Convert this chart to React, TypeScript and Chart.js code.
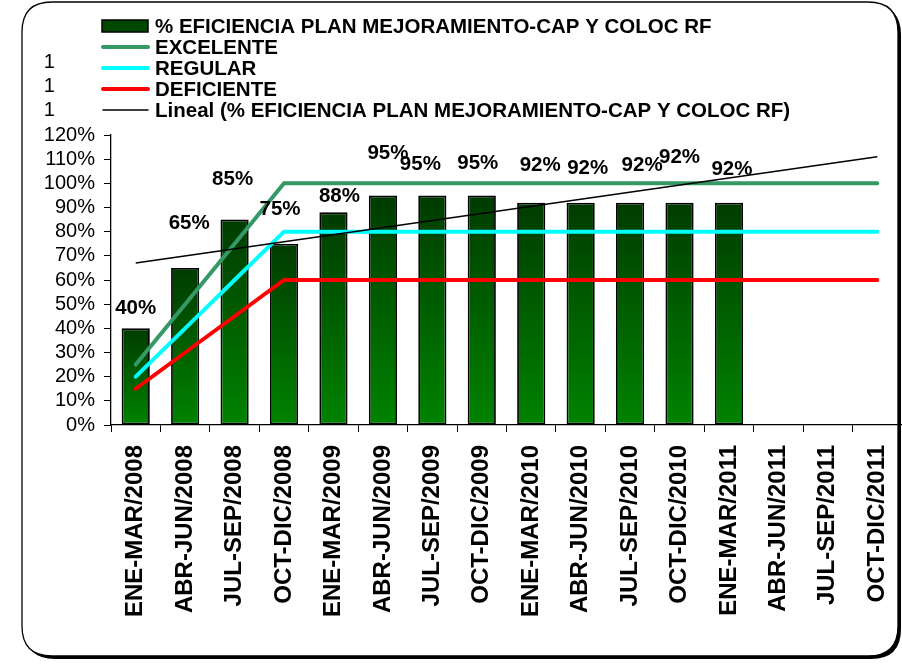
import React, { useEffect, useRef } from "react";
import { Chart, registerables } from "chart.js";

Chart.register(...registerables);

const FONT = "Arial, 'Liberation Sans', Helvetica, sans-serif";

const categories = [
  "ENE-MAR/2008", "ABR-JUN/2008", "JUL-SEP/2008", "OCT-DIC/2008",
  "ENE-MAR/2009", "ABR-JUN/2009", "JUL-SEP/2009", "OCT-DIC/2009",
  "ENE-MAR/2010", "ABR-JUN/2010", "JUL-SEP/2010", "OCT-DIC/2010",
  "ENE-MAR/2011", "ABR-JUN/2011", "JUL-SEP/2011", "OCT-DIC/2011",
];

const efficiency = [40, 65, 85, 75, 88, 95, 95, 95, 92, 92, 92, 92, 92, null, null, null];
const excelente = [25, 50, 75, 100, 100, 100, 100, 100, 100, 100, 100, 100, 100, 100, 100, 100];
const regular = [20, 40, 60, 80, 80, 80, 80, 80, 80, 80, 80, 80, 80, 80, 80, 80];
const deficiente = [15, 30, 45, 60, 60, 60, 60, 60, 60, 60, 60, 60, 60, 60, 60, 60];
// trend line read at its two ends
const trend = [67, null, null, null, null, null, null, null, null, null, null, null, null, null, null, 111];

const seriesLabels = [
  "% EFICIENCIA PLAN MEJORAMIENTO-CAP Y COLOC RF",
  "EXCELENTE",
  "REGULAR",
  "DEFICIENTE",
  "Lineal (% EFICIENCIA PLAN MEJORAMIENTO-CAP Y COLOC RF)",
];

const yMin = 0;
const yMax = 120;
const yStep = 10;
const clippedTicks = [130, 140, 150];

// label nudges (px) relative to the bar top, as placed in the original
const labelNudges: [number, number][] = [
  [0, -20], [4, -45], [-2, -40], [-4, -34], [6, -16], [5, -42], [-12, -31],
  [-4, -32], [9, -37], [7, -34], [12, -37], [0, -45], [3, -33],
];

function roundRectPath(ctx: CanvasRenderingContext2D, x: number, y: number, w: number, h: number, r: number) {
  ctx.beginPath();
  ctx.moveTo(x + r, y);
  ctx.lineTo(x + w - r, y);
  ctx.quadraticCurveTo(x + w, y, x + w, y + r);
  ctx.lineTo(x + w, y + h - r);
  ctx.quadraticCurveTo(x + w, y + h, x + w - r, y + h);
  ctx.lineTo(x + r, y + h);
  ctx.quadraticCurveTo(x, y + h, x, y + h - r);
  ctx.lineTo(x, y + r);
  ctx.quadraticCurveTo(x, y, x + r, y);
  ctx.closePath();
}

const framePlugin = {
  id: "frame",
  beforeDraw(chart: any) {
    const ctx = chart.ctx as CanvasRenderingContext2D;
    ctx.save();
    ctx.fillStyle = "#ffffff";
    ctx.fillRect(0, 0, chart.width, chart.height);
    const x = 22, y = 2, w = 876, h = 654, r = 30;
    ctx.fillStyle = "#000";
    roundRectPath(ctx, x + 3, y + 3, w, h, r);
    ctx.fill();
    ctx.fillStyle = "#fff";
    roundRectPath(ctx, x, y, w, h, r);
    ctx.fill();
    ctx.lineWidth = 1.3;
    ctx.strokeStyle = "#000";
    ctx.stroke();
    ctx.restore();
  },
};

const legendPlugin = {
  id: "customLegend",
  afterDraw(chart: any) {
    const ctx = chart.ctx as CanvasRenderingContext2D;
    const ds = chart.data.datasets;
    ctx.save();
    ctx.font = `bold 20.5px ${FONT}`;
    ctx.textBaseline = "middle";
    ctx.textAlign = "left";
    ds.forEach((d: any, row: number) => {
      const cy = 26 + row * 21;
      if (d.type === "bar") {
        ctx.fillStyle = "#004800";
        ctx.fillRect(102, cy - 6, 46, 12);
        ctx.lineWidth = 1.5;
        ctx.strokeStyle = "#000";
        ctx.strokeRect(102, cy - 6, 46, 12);
      } else {
        ctx.beginPath();
        ctx.moveTo(103, cy);
        ctx.lineTo(148, cy);
        ctx.lineWidth = d.borderWidth;
        ctx.strokeStyle = d.borderColor;
        ctx.lineCap = "round";
        ctx.stroke();
      }
      ctx.fillStyle = "#000";
      ctx.fillText(d.label, 155, cy + 1);
    });
    ctx.restore();
  },
};

const dataLabelPlugin = {
  id: "barLabels",
  afterDatasetsDraw(chart: any) {
    const ctx = chart.ctx as CanvasRenderingContext2D;
    const meta = chart.getDatasetMeta(0);
    ctx.save();
    ctx.font = `bold 20.5px ${FONT}`;
    ctx.fillStyle = "#000";
    ctx.textAlign = "center";
    ctx.textBaseline = "middle";
    meta.data.forEach((el: any, i: number) => {
      const v = efficiency[i];
      if (v == null) return;
      const [dx, dy] = labelNudges[i] || [0, -20];
      ctx.fillText(`${v}%`, el.x + dx, el.y + dy);
    });
    ctx.restore();
  },
};

const clippedTickPlugin = {
  id: "clippedTicks",
  afterDraw(chart: any) {
    const ctx = chart.ctx as CanvasRenderingContext2D;
    const y = chart.scales.y;
    ctx.save();
    ctx.font = `20px ${FONT}`;
    ctx.fillStyle = "#000";
    ctx.textAlign = "left";
    ctx.textBaseline = "middle";
    const right = y.right - 7 - 9;
    clippedTicks.forEach((t) => {
      const w = ctx.measureText(`${t}%`).width;
      ctx.fillText("1", right - w, y.getPixelForValue(t));
    });
    ctx.restore();
  },
};

export default function App() {
  const ref = useRef<HTMLCanvasElement | null>(null);

  useEffect(() => {
    if (!ref.current) return;
    const barFill = (c: any) => {
      const chart = c.chart;
      const ys = chart.scales && chart.scales.y;
      if (!ys || c.raw == null) return "#005500";
      const top = ys.getPixelForValue(c.raw);
      const bot = ys.getPixelForValue(0);
      if (!isFinite(top) || !isFinite(bot) || top === bot) return "#005500";
      const g = chart.ctx.createLinearGradient(0, top, 0, bot);
      g.addColorStop(0, "#003b00");
      g.addColorStop(1, "#008300");
      return g;
    };

    const chart = new Chart(ref.current, {
      type: "bar",
      data: {
        labels: categories,
        datasets: [
          {
            type: "bar",
            label: seriesLabels[0],
            data: efficiency,
            backgroundColor: barFill,
            borderColor: "#000",
            borderWidth: 1.8,
            borderSkipped: false,
            barPercentage: 0.57,
            categoryPercentage: 1,
            order: 10,
          } as any,
          {
            type: "line",
            label: seriesLabels[1],
            data: excelente,
            borderColor: "#339966",
            borderWidth: 4,
            pointRadius: 0,
            borderCapStyle: "round",
            tension: 0,
            order: 3,
          } as any,
          {
            type: "line",
            label: seriesLabels[2],
            data: regular,
            borderColor: "#00ffff",
            borderWidth: 4,
            pointRadius: 0,
            borderCapStyle: "round",
            tension: 0,
            order: 2,
          } as any,
          {
            type: "line",
            label: seriesLabels[3],
            data: deficiente,
            borderColor: "#ff0000",
            borderWidth: 4,
            pointRadius: 0,
            borderCapStyle: "round",
            tension: 0,
            order: 1,
          } as any,
          {
            type: "line",
            label: seriesLabels[4],
            data: trend,
            borderColor: "#000000",
            borderWidth: 1.5,
            pointRadius: 0,
            spanGaps: true,
            tension: 0,
            order: 0,
          } as any,
        ],
      },
      options: {
        responsive: false,
        animation: false,
        layout: { padding: { top: 135, left: 0, right: 0, bottom: 0 } },
        plugins: {
          legend: { display: false },
          tooltip: { enabled: false },
          title: { display: false },
        },
        scales: {
          x: {
            type: "category",
            offset: true,
            grid: {
              display: true,
              drawOnChartArea: false,
              drawTicks: true,
              tickLength: 7,
              color: "#000",
              offset: true,
            },
            border: { display: true, color: "#000", width: 1.3 },
            ticks: {
              color: "#000",
              font: { family: FONT, size: 24, weight: "bold" },
              maxRotation: 90,
              minRotation: 90,
              autoSkip: false,
              padding: 13,
            },
            afterFit: (s: any) => {
              s.height = 246;
              s.paddingLeft = 0;
              s.paddingRight = 0;
            },
          },
          y: {
            min: yMin,
            max: yMax,
            grid: {
              display: true,
              drawOnChartArea: false,
              drawTicks: true,
              tickLength: 7,
              color: "#000",
            },
            border: { display: true, color: "#000", width: 1.3 },
            ticks: {
              stepSize: yStep,
              autoSkip: false,
              color: "#000",
              font: { family: FONT, size: 20 },
              padding: 9,
              callback: (v: any) => `${v}%`,
            },
            afterFit: (s: any) => {
              s.width = 111;
              s.paddingTop = 0;
              s.paddingBottom = 0;
            },
          },
        },
      } as any,
      plugins: [framePlugin, legendPlugin, dataLabelPlugin, clippedTickPlugin],
    });
    return () => chart.destroy();
  }, []);

  return (
    <div style={{ position: "fixed", left: 0, top: 0, width: 902, height: 671, background: "#fff" }}>
      <canvas ref={ref} width={902} height={671} style={{ display: "block", width: 902, height: 671 }} />
    </div>
  );
}
